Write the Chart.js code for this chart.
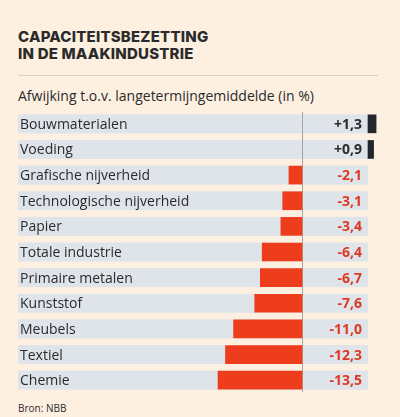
<!DOCTYPE html>
<html>
<head>
<meta charset="utf-8">
<script src="https://cdn.jsdelivr.net/npm/chart.js@4"></script>
<style>
  html, body { margin: 0; padding: 0; background: #fdf0e1; }
  body { width: 400px; height: 417px; position: relative; overflow: hidden; font-family: Inter, "Open Sans", sans-serif; color: #2b2b2b; }
  h1 { position: absolute; left: 18px; top: 28px; margin: 0; font-size: 15px; line-height: 17px; font-weight: 800; letter-spacing: 0.2px; }
  .rule { position: absolute; left: 18px; top: 75px; width: 360px; height: 1px; background: #d9cfc3; }
  .sub { position: absolute; left: 18px; top: 86px; font-size: 14px; font-family: "Open Sans", sans-serif; }
  .src { position: absolute; left: 18px; top: 401px; font-size: 10px; font-family: "Open Sans", sans-serif; }
  canvas { position: absolute; left: 0; top: 0; }
</style>
</head>
<body>
<h1>CAPACITEITSBEZETTING<br>IN DE MAAKINDUSTRIE</h1>
<div class="rule"></div>
<div class="sub">Afwijking t.o.v. langetermijngemiddelde (in %)</div>
<div class="src">Bron: NBB</div>
<canvas id="chart" width="400" height="417"></canvas>
<script>
const categories = ['Bouwmaterialen', 'Voeding', 'Grafische nijverheid', 'Technologische nijverheid', 'Papier',
  'Totale industrie', 'Primaire metalen', 'Kunststof', 'Meubels', 'Textiel', 'Chemie'];
const values = [1.3, 0.9, -2.1, -3.1, -3.4, -6.4, -6.7, -7.6, -11.0, -12.3, -13.5];

// layout: zero of negatives at x=302, positives start at x=368, ~6.22 px per unit
const left = 18, right = 390, zeroNeg = 302, zeroPos = 368, ppu = 6.22;
const xMin = -(zeroNeg - left) / ppu, xMax = (right - zeroNeg) / ppu;
const shift = (zeroPos - zeroNeg) / ppu;

const rowsPlugin = {
  id: 'rows',
  beforeDatasetsDraw(chart) {
    const ctx = chart.ctx, y = chart.scales.y, x = chart.scales.x, x2 = chart.scales.x2;
    const end = x2.getPixelForValue(0);
    ctx.save();
    ctx.fillStyle = '#dfe3ea';
    categories.forEach((c, i) => {
      const py = y.getPixelForValue(i);
      ctx.fillRect(left, py - 9.5, end - left, 19);
    });
    ctx.strokeStyle = '#a9a39b';
    ctx.lineWidth = 1;
    const zx = Math.round(x.getPixelForValue(0)) + 0.5;
    ctx.beginPath();
    ctx.moveTo(zx, y.getPixelForValue(0) - 12);
    ctx.lineTo(zx, y.getPixelForValue(categories.length - 1) + 12);
    ctx.stroke();
    ctx.restore();
  },
  afterDatasetsDraw(chart) {
    const ctx = chart.ctx, y = chart.scales.y, x2 = chart.scales.x2;
    const end = x2.getPixelForValue(0);
    ctx.save();
    ctx.textBaseline = 'middle';
    categories.forEach((c, i) => {
      const py = y.getPixelForValue(i) + 1;
      ctx.font = '14px "Open Sans", sans-serif';
      ctx.fillStyle = '#2b2b2b';
      ctx.textAlign = 'left';
      ctx.fillText(c, left + 2, py);
      const v = values[i];
      ctx.font = 'bold 14px "Open Sans", sans-serif';
      ctx.fillStyle = v < 0 ? '#dc3a22' : '#2b2b2b';
      ctx.textAlign = 'right';
      const txt = (v > 0 ? '+' : '') + v.toFixed(1).replace('.', ',');
      ctx.fillText(txt, end - 6, py);
    });
    ctx.restore();
  }
};

new Chart(document.getElementById('chart'), {
  type: 'bar',
  data: {
    labels: categories,
    datasets: [
      { data: values.map(v => v < 0 ? v : null), xAxisID: 'x', backgroundColor: '#ee3d1d', barThickness: 18 },
      { data: values.map(v => v > 0 ? v : null), xAxisID: 'x2', backgroundColor: '#24262d', barThickness: 18 }
    ]
  },
  options: {
    indexAxis: 'y',
    responsive: false,
    animation: false,
    devicePixelRatio: 1,
    layout: { padding: { left: left, right: 400 - right, top: 111, bottom: 24 } },
    plugins: { legend: { display: false }, tooltip: { enabled: false } },
    datasets: { bar: { grouped: false } },
    scales: {
      y: { display: false, offset: true },
      x: { display: false, min: xMin, max: xMax },
      x2: { display: false, min: xMin - shift, max: xMax - shift }
    }
  },
  plugins: [rowsPlugin]
});
</script>
</body>
</html>
